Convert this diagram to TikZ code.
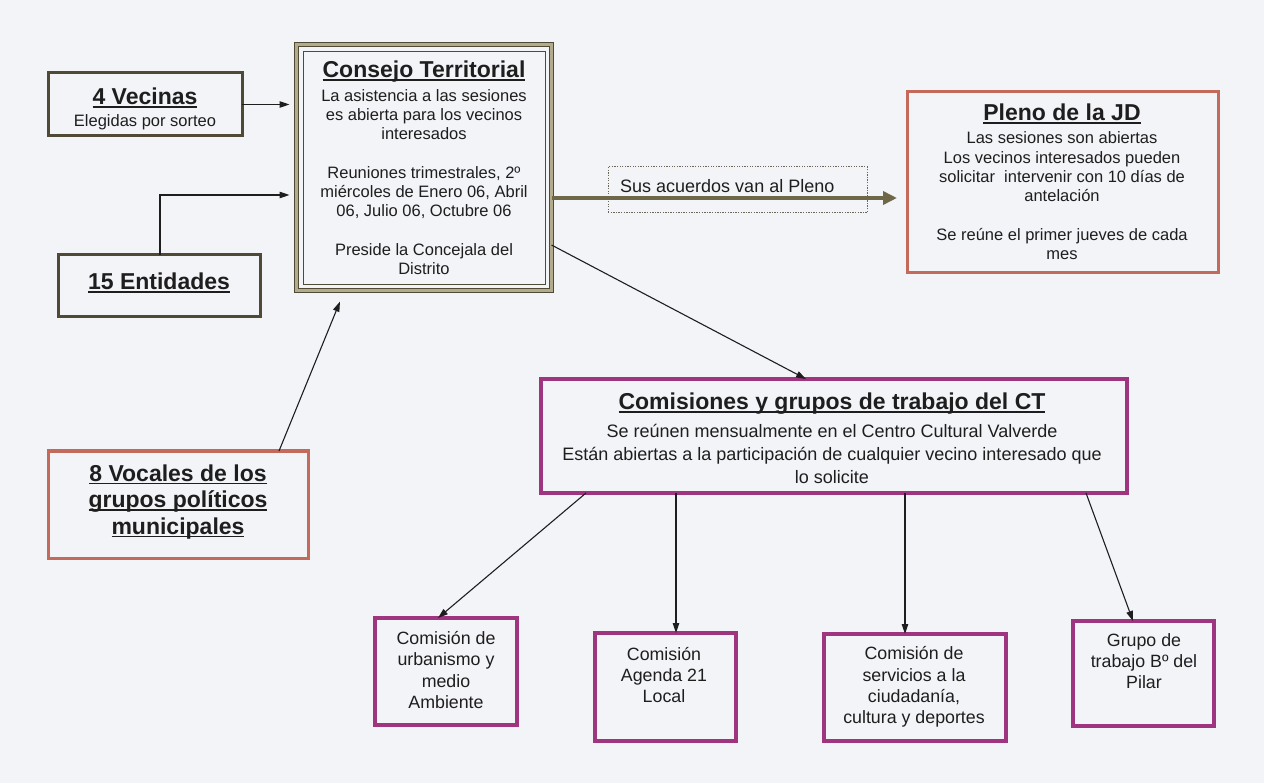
\documentclass[tikz,border=0pt]{standalone}
\usepackage{fontspec}
\setmainfont{Liberation Sans}
\usetikzlibrary{arrows.meta,calc}
\definecolor{olv}{HTML}{4F4A36}
\definecolor{olvl}{HTML}{B3AC8C}
\definecolor{olva}{HTML}{6E6748}
\definecolor{rbr}{HTML}{C46A5C}
\definecolor{mag}{HTML}{A0357F}
\definecolor{bg}{HTML}{F3F4F8}
\definecolor{ink}{HTML}{1E1E1E}
\definecolor{dotc}{HTML}{6A6658}
\newcommand{\ulin}[1]{\setbox0\hbox{#1}\rlap{\rule[-0.13em]{\wd0}{0.075em}}\box0}
\newcommand{\ttl}{\fontsize{23}{26.5}\selectfont\bfseries}
\newcommand{\bdy}{\fontsize{16.5}{19.3}\selectfont}
\newcommand{\bdym}{\fontsize{18}{22.8}\selectfont}
\newcommand{\bdys}{\fontsize{17.8}{21.2}\selectfont}
\begin{document}
\begin{tikzpicture}[x=1pt,y=-1pt,
  basebox/.style={rectangle, inner sep=0pt, outer sep=0pt},
  obox/.style={basebox, draw=olv, line width=3pt},
  rbox/.style={basebox, draw=rbr, line width=3pt},
  mbox/.style={basebox, draw=mag, line width=3.2pt},
  txt/.style={text=ink, align=center, inner sep=0pt},
  arr/.style={draw=ink, line width=1.1pt, -{Triangle[length=10pt,width=6.5pt]}}]
\fill[bg] (0,0) rectangle (1264,783);
\useasboundingbox (0,0) rectangle (1264,783);

% boxes
\node[obox, minimum width=194pt, minimum height=63pt] (vec) at (145,104.5) {};
\node[obox, minimum width=202pt, minimum height=62pt] (ent) at (159,286) {};
\node[rbox, minimum width=260pt, minimum height=107pt] (voc) at (178,504.5) {};
\node[basebox, draw=olv, line width=1.6pt, double=olvl, double distance=2.4pt,
      minimum width=255pt, minimum height=246pt] (ct) at (424,167.5) {};
\draw[olv, line width=0.9pt] ([shift={(6.5,6.5)}]ct.north west) rectangle ([shift={(-6.5,-6.5)}]ct.south east);
\node[rbox, minimum width=311pt, minimum height=181pt] (pleno) at (1062.5,182.5) {};
\node[basebox, draw=dotc, line width=1pt, dash pattern=on 1.3pt off 1.3pt, minimum width=259pt, minimum height=46pt] (dot) at (737.5,190) {};
\node[mbox, minimum width=586pt, minimum height=114pt] (com) at (834,436) {};
\node[mbox, minimum width=142pt, minimum height=107pt] (urb) at (446,671.5) {};
\node[mbox, minimum width=141pt, minimum height=108pt] (age) at (665.5,687) {};
\node[mbox, minimum width=182pt, minimum height=107pt] (ser) at (915,687.5) {};
\node[mbox, minimum width=141pt, minimum height=105pt] (gru) at (1143.5,673.5) {};

% texts
\node[txt, font=\ttl] (vect) at (145,98) {\ulin{4 Vecinas}};
\node[txt, font=\bdy] (vecs) at (145,122) {Elegidas por sorteo};
\node[txt, font=\ttl] (entt) at (159,283) {\ulin{15 Entidades}};
\node[txt, font=\ttl] (voct) at (178,502) {\ulin{8 Vocales de los}\\\ulin{grupos políticos}\\\ulin{municipales}};
\node[txt, font=\ttl] (ctt) at (424,72) {\ulin{Consejo Territorial}};
\node[txt, font=\bdy] (ctb) at (424,182) {La asistencia a las sesiones\\es abierta para los vecinos\\interesados\\[19.3pt]Reuniones trimestrales, 2º\\miércoles de Enero 06, Abril\\06, Julio 06, Octubre 06\\[19.3pt]Preside la Concejala del\\Distrito};
\node[txt, font=\ttl] (plt) at (1062,114) {\ulin{Pleno de la JD}};
\node[txt, font=\bdy] (plb) at (1062,196) {Las sesiones son abiertas\\Los vecinos interesados pueden\\solicitar\ \ intervenir con 10 días de\\antelación\\[19.3pt]Se reúne el primer jueves de cada\\mes};
\node[txt, font=\ttl] (comt) at (832,404) {\ulin{Comisiones y grupos de trabajo del CT}};
\node[txt, font=\bdym] (comb) at (832,454) {Se reúnen mensualmente en el Centro Cultural Valverde\\Están abiertas a la participación de cualquier vecino interesado que\\lo solicite};
\node[txt, font=\bdys] (urbt) at (446,670) {Comisión de\\urbanismo y\\medio\\Ambiente};
\node[txt, font=\bdys] (aget) at (664,675) {Comisión\\Agenda 21\\Local};
\node[txt, font=\bdys] (sert) at (914,687) {Comisión de\\servicios a la\\ciudadanía,\\cultura y deportes};
\node[txt, font=\bdys] (grut) at (1144,661) {Grupo de\\trabajo Bº del\\Pilar};

% connector coordinates
\coordinate (e2) at (160,195);
\coordinate (v1) at (279,0);
\coordinate (v2) at (344.5,0);
\coordinate (t1) at (0,198);
\coordinate (c1) at (0,245);
\coordinate (c2) at (806,0);
\coordinate (s1) at (586,0);
\coordinate (d1) at (438,0);
\coordinate (s2) at (676,0);
\coordinate (s3) at (905,0);
\coordinate (s4) at (1086,0);
\coordinate (d4) at (1133,0);

% connectors
\draw[arr, shorten >=7pt] (vec.east) -- (ct.west |- vec.east);
\draw[arr, shorten >=7pt] (ent.north -| e2) -- (e2) -- (ct.west |- e2);
\draw[arr, shorten >=12pt] (voc.north -| v1) -- (ct.south -| v2);
\draw[olva, line width=4.5pt, -{Triangle[length=14pt,width=13pt]}, shorten >=10pt] (ct.east |- t1) -- (pleno.west |- t1);
\node[txt, font=\bdym, anchor=west] (dott) at (620,186) {Sus acuerdos van al Pleno};
\draw[arr] (ct.east |- c1) -- (com.north -| c2);
\draw[arr] (com.south -| s1) -- (urb.north -| d1);
\draw[arr] (com.south -| s2) -- (age.north -| s2);
\draw[arr] (com.south -| s3) -- (ser.north -| s3);
\draw[arr] (com.south -| s4) -- (gru.north -| d4);
\end{tikzpicture}
\end{document}
